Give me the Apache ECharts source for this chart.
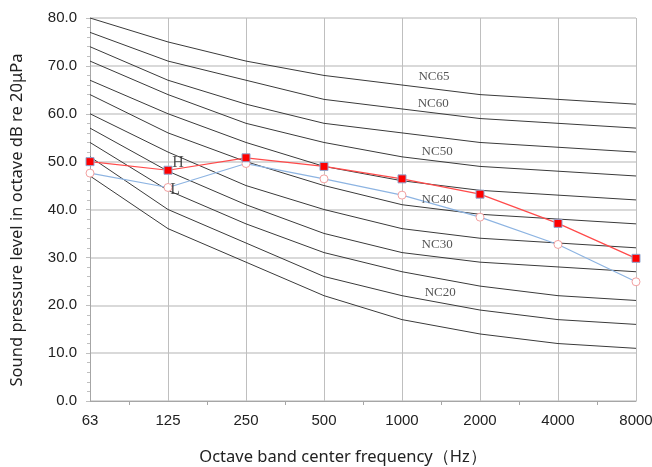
<!DOCTYPE html>
<html><head><meta charset="utf-8">
<script src="https://cdn.jsdelivr.net/npm/echarts@6/dist/echarts.min.js"></script>
<style>html,body{margin:0;padding:0;background:#fff}#c{width:652px;height:467px}</style>
</head><body><div id="c"></div>
<script>
var categories = ['63','125','250','500','1000','2000','4000','8000'];
var yTicks = [0,10,20,30,40,50,60,70,80];
var xTitle = 'Octave band center frequency（Hz）';
var yTitle = 'Sound pressure level in octave dB re 20μPa';
var nc15 = [47,36,29,22,17,14,12,11];
var nc20 = [51,40,33,26,22,19,17,16];
var nc25 = [54,44,37,31,27,24,22,21];
var nc30 = [57,48,41,35,31,29,28,27];
var nc35 = [60,52,45,40,36,34,33,32];
var nc40 = [64,56,50,45,41,39,38,37];
var nc45 = [67,60,54,49,46,44,43,42];
var nc50 = [71,64,58,54,51,49,48,47];
var nc55 = [74,67,62,58,56,54,53,52];
var nc60 = [77,71,67,63,61,59,58,57];
var nc65 = [80,75,71,68,66,64,63,62];
var seriesH = [50.0,48.2,50.8,49.0,46.4,43.2,37.1,29.8];
var seriesL = [47.6,44.6,49.6,46.4,43.0,38.4,32.7,24.9];
var ncLabels = [['NC65',4.41,67.7],['NC60',4.40,62.2],['NC50',4.45,52.0],['NC40',4.45,42.0],['NC30',4.45,32.6],['NC20',4.49,22.6]];
var hlLabels = [['H',1.13,49.7],['L',1.09,44.1]];

function pts(arr){return arr.map(function(v,i){return [i,v];});}
var ncAll = [nc15,nc20,nc25,nc30,nc35,nc40,nc45,nc50,nc55,nc60,nc65];
var series = ncAll.map(function(a){
  return {type:'line',data:pts(a),symbol:'none',silent:true,
    lineStyle:{color:'#3a3a3a',width:1},z:2};
});
series.push({type:'line',data:pts(seriesL),symbol:'circle',symbolSize:8,
  lineStyle:{color:'#8db4e2',width:1.2},
  itemStyle:{color:'#ffffff',borderColor:'#f2a0a0',borderWidth:1},z:4});
series.push({type:'line',data:pts(seriesH),symbol:'rect',symbolSize:8,
  lineStyle:{color:'#ff4a4a',width:1.2},
  itemStyle:{color:'#ff0000',borderColor:'#8fa6d0',borderWidth:1},z:5});
series.push({type:'scatter',symbolSize:0,silent:true,z:6,
  data:ncLabels.map(function(l){return {value:[l[1],l[2]],name:l[0]};}),
  label:{show:true,position:'inside',formatter:'{b}',fontFamily:'Liberation Serif',fontSize:13,color:'#2a2a2a'}});
series.push({type:'scatter',symbolSize:0,silent:true,z:6,
  data:hlLabels.map(function(l){return {value:[l[1],l[2]],name:l[0]};}),
  label:{show:true,position:'inside',formatter:'{b}',fontFamily:'Liberation Serif',fontSize:16,color:'#2a2a2a'}});

var chart = echarts.init(document.getElementById('c'));
chart.setOption({
  animation:false,
  grid:{left:90,right:16,top:18,bottom:66,containLabel:false,outerBoundsMode:'none'},
  graphic:[
    {type:'text',x:343,y:457,style:{text:xTitle,fontFamily:'Noto Sans',fontSize:16.5,fill:'#222',align:'center',verticalAlign:'middle'}},
    {type:'text',x:17,y:220,rotation:Math.PI/2,style:{text:yTitle,fontFamily:'Noto Sans',fontSize:16.5,fill:'#222',align:'center',verticalAlign:'middle'}}
  ],
  xAxis:{type:'value',min:0,max:categories.length-1,interval:1,
    axisLine:{show:true,lineStyle:{color:'#a6a6a6',width:1}},
    axisTick:{show:false},
    minorTick:{show:true,splitNumber:2,length:4,lineStyle:{color:'#a6a6a6'}},
    axisLabel:{formatter:function(v){return categories[Math.round(v)];},fontFamily:'Liberation Sans',fontSize:15,color:'#222',margin:12},
    splitLine:{show:true,lineStyle:{color:'#bfbfbf',width:1}}},
  yAxis:{type:'value',min:yTicks[0],max:yTicks[yTicks.length-1],interval:10,
    axisLine:{show:true,lineStyle:{color:'#a6a6a6',width:1}},
    axisTick:{show:true,inside:false,length:4,lineStyle:{color:'#bfbfbf'}},
    minorTick:{show:true,splitNumber:5,length:3,lineStyle:{color:'#bfbfbf'}},
    axisLabel:{formatter:function(v){return v.toFixed(1);},fontFamily:'Liberation Sans',fontSize:15,color:'#222',margin:13},
    splitLine:{show:true,lineStyle:{color:'#d9d9d9',width:2}}},
  series:series
});
</script></body></html>
